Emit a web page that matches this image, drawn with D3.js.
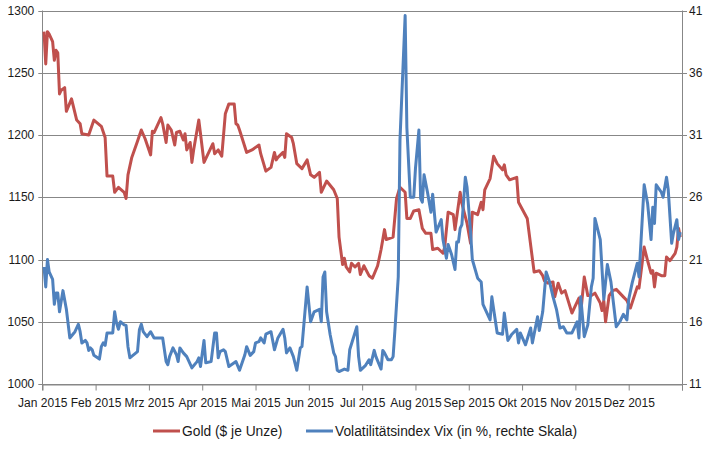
<!DOCTYPE html>
<html>
<head>
<meta charset="utf-8">
<script src="https://cdn.jsdelivr.net/npm/d3@7"></script>
<style>
  body { margin: 0; background: #fff; }
  svg text { font-family: "Liberation Sans", Arial, sans-serif; fill: #1a1a1a; }
</style>
</head>
<body>
<div id="app"></div>
<script>
// month labels of the x axis (German)
const monthLabels = ['Jan', 'Feb', 'Mrz', 'Apr', 'Mai', 'Jun', 'Jul', 'Aug', 'Sep', 'Okt', 'Nov', 'Dez'];

// gold price, $ per ounce (left axis)
const goldDates = ['1-2','1-3','1-4','1-5','1-7','1-8','1-9','1-10','1-11','1-12','1-14','1-15','1-18','1-21','1-23','1-24','1-28','1-31',
  '2-4','2-6','2-7','2-10','2-11','2-13','2-16','2-17','2-18','2-20','2-23','2-25','2-27',
  '3-2','3-3','3-4','3-8','3-9','3-11','3-12','3-14','3-16','3-17','3-19','3-21','3-22','3-23','3-25','3-26','3-27','3-30','3-31',
  '4-2','4-7','4-8','4-10','4-12','4-14','4-16','4-19','4-20','4-21','4-22','4-26','4-29',
  '5-3','5-4','5-7','5-10','5-12','5-13','5-14','5-17','5-18','5-19','5-22','5-23','5-25','5-28','5-31',
  '6-2','6-4','6-7','6-8','6-11','6-15','6-17','6-18','6-20','6-21','6-22','6-24','6-25','6-27','6-29','6-30',
  '7-2','7-5','7-7','7-10','7-12','7-14','7-15','7-19','7-21','7-23','7-26','7-27','7-29','7-31',
  '8-3','8-5','8-7','8-10','8-11','8-14','8-17','8-18','8-20','8-23','8-24','8-27','8-28','8-31',
  '9-2','9-3','9-6','9-8','9-9','9-10','9-13','9-15','9-17','9-20','9-21','9-22','9-24','9-28','9-29',
  '10-4','10-8','10-11','10-13','10-14','10-16','10-19','10-20','10-22','10-24','10-26','10-30',
  '11-1','11-3','11-4','11-6','11-8','11-10','11-12','11-15','11-16','11-17','11-18','11-20','11-22','11-24','11-28','11-30',
  '12-2','12-6','12-7','12-10','12-12','12-14','12-15','12-16','12-17','12-20','12-22','12-23','12-25','12-28','12-29','12-30','12-31'];
const goldValues = [1283,1257,1283,1281,1275,1260,1268,1266,1233,1236,1238,1219,1229,1212,1209,1201,1200,1212,
  1207,1198,1167,1167,1154,1158,1154,1149,1168,1182,1195,1204,1197,
  1184,1203,1202,1214,1209,1194,1208,1204,1192,1202,1203,1196,1201,1188,1194,1178,1188,1212,1201,
  1178,1193,1185,1188,1183,1217,1225,1225,1209,1208,1204,1186,1188,
  1192,1185,1171,1174,1186,1180,1182,1186,1182,1201,1198,1193,1177,1173,1180,
  1168,1166,1170,1154,1163,1156,1149,1118,1096,1101,1094,1090,1097,1094,1097,1088,
  1095,1087,1085,1095,1108,1124,1116,1118,1149,1158,1154,1133,1133,1139,
  1140,1125,1121,1121,1108,1109,1105,1110,1138,1136,1124,1154,1145,1129,
  1113,1138,1136,1146,1140,1156,1165,1183,1177,1172,1176,1168,1164,1166,1146,
  1133,1090,1091,1087,1083,1081,1082,1070,1081,1073,1075,1057,
  1063,1069,1057,1086,1071,1071,1073,1065,1059,1067,1050,1071,1075,1076,1070,1067,
  1061,1078,1077,1110,1099,1089,1091,1078,1089,1087,1087,1102,1099,1105,1110,1125,1118];

// volatility index VIX, % (right axis)
const vixDates = ['1-2','1-3','1-4','1-5','1-7','1-8','1-9','1-10','1-11','1-13','1-15','1-17','1-20','1-22','1-23','1-24','1-26','1-27','1-28','1-29','1-30','1-31',
  '2-3','2-4','2-5','2-6','2-7','2-10','2-11','2-12','2-13','2-14','2-16','2-17','2-18','2-19','2-23','2-24','2-25','2-26','2-28',
  '3-2','3-4','3-9','3-11','3-12','3-13','3-15','3-17','3-18','3-19','3-21','3-23','3-26','3-29','3-30','3-31',
  '4-2','4-3','4-6','4-8','4-9','4-10','4-11','4-13','4-14','4-16','4-20','4-22','4-25','4-26','4-28','4-30',
  '5-1','5-3','5-4','5-6','5-7','5-10','5-12','5-14','5-17','5-18','5-19','5-21','5-23','5-25','5-27','5-28','5-31',
  '6-2','6-4','6-7','6-8','6-9','6-10','6-11','6-13','6-15','6-16','6-17','6-18','6-21','6-23','6-24','6-28','6-29','6-30',
  '7-3','7-5','7-6','7-8','7-9','7-12','7-13','7-14','7-16','7-18','7-19','7-20','7-22','7-23','7-26','7-27','7-29','7-31',
  '8-1','8-3','8-4','8-5','8-6','8-8','8-10','8-11','8-13','8-16','8-17','8-19','8-20','8-22','8-24','8-25','8-26','8-27','8-28','8-30','8-31',
  '9-2','9-3','9-6','9-8','9-9','9-13','9-14','9-15','9-17','9-20','9-21','9-23','9-25','9-28','9-29','9-30',
  '10-3','10-6','10-7','10-10','10-11','10-13','10-15','10-17','10-19','10-21','10-23','10-25','10-27','10-30',
  '11-2','11-3','11-4','11-6','11-8','11-10','11-11','11-12','11-15','11-17','11-19','11-21','11-24','11-26','11-28','11-30',
  '12-1','12-3','12-6','12-7','12-10','12-12','12-14','12-15','12-16','12-17','12-20','12-21','12-23','12-24','12-26','12-27','12-29','12-30','12-31'];
const vixValues = [20.4,18.8,21.0,20.0,19.4,17.4,18.3,18.3,16.8,18.5,17.0,14.7,15.2,15.8,15.2,14.3,14.5,14.3,13.7,13.9,13.75,13.3,
  13.0,14.0,14.3,14.1,15.1,15.1,16.8,15.9,15.4,16.0,15.75,15.7,14.0,13.1,13.6,15.35,15.8,15.2,14.8,
  15.2,14.7,14.7,12.8,12.55,13.2,13.9,13.35,12.8,13.9,13.5,13.2,12.3,12.8,13.1,12.4,
  14.5,12.7,12.8,15.1,15.1,13.1,13.6,13.75,13.6,12.4,12.8,12.1,13.35,14.0,13.3,13.6,
  14.3,14.4,14.7,14.3,15.0,15.2,13.75,14.7,15.4,14.7,13.5,13.9,13.2,12.1,13.9,14.0,18.8,
  16.0,16.8,17.0,16.0,19.6,20.0,16.8,14.95,13.5,13.2,12.1,12.0,12.2,12.1,13.75,15.6,13.2,12.1,
  12.5,12.95,12.55,13.7,13.2,12.2,13.7,13.5,12.95,12.95,13.2,15.2,19.6,30.6,40.6,31.6,26.0,26.0,
  28.3,31.4,25.9,25.6,27.8,26.4,24.8,26.25,23.2,24.2,22.6,21.1,22.2,21.4,20.2,22.4,22.4,23.5,23.8,27.6,26.8,
  23.2,21.0,19.5,19.2,17.4,16.15,18.0,17.0,15.1,15.0,16.7,14.5,14.95,15.4,14.3,15.1,
  14.15,15.5,14.3,16.4,15.3,16.8,20.0,19.2,18.0,17.0,15.5,15.6,15.1,15.1,
  16.0,14.7,18.0,14.8,15.75,18.8,19.5,24.3,22.6,17.8,20.6,19.2,15.6,16.0,16.6,16.15,
  17.8,19.1,20.7,19.6,27.0,25.5,22.6,25.2,23.9,27.0,26.4,26.0,27.6,26.6,22.3,23.1,24.2,22.6,23.2];

const goldTicks = [1000, 1050, 1100, 1150, 1200, 1250, 1300];
const vixTicks = [11, 16, 21, 26, 31, 36, 41];

const width = 712;
const height = 452;
const plotLeft = 42.3, plotRight = 682, plotTop = 10.5, plotBottom = 384;

const parse = (s) => {
  const [m, d] = s.split('-').map(Number);
  return new Date(2015, m - 1, d);
};

const svg = d3
  .select('#app')
  .append('svg')
  .attr('width', width)
  .attr('height', height);

// month boundaries as in the reference: every month gets about the same width
const monthStarts = d3.range(13).map((i) => new Date(2015, i, 1));
const x = d3
  .scaleTime()
  .domain(monthStarts)
  .range(monthStarts.map((d, i) => plotLeft + (i * (plotRight - plotLeft)) / 12));

const yGold = d3.scaleLinear().domain([1000, 1300]).range([plotBottom, plotTop]);
const yVix = d3.scaleLinear().domain([11, 41]).range([plotBottom, plotTop]);

const gridColor = '#878787';

// gridlines + tick marks outside both vertical axes
svg
  .append('g')
  .selectAll('line')
  .data(goldTicks)
  .enter()
  .append('line')
  .attr('x1', plotLeft - 4)
  .attr('x2', plotRight + 5)
  .attr('y1', (d) => Math.round(yGold(d)) + 0.5)
  .attr('y2', (d) => Math.round(yGold(d)) + 0.5)
  .attr('stroke', gridColor)
  .attr('stroke-width', 1);

// axis lines
svg.append('line')
  .attr('x1', Math.round(plotLeft) + 0.5).attr('x2', Math.round(plotLeft) + 0.5)
  .attr('y1', plotTop).attr('y2', plotBottom + 6)
  .attr('stroke', gridColor);
svg.append('line')
  .attr('x1', Math.round(plotRight) + 0.5).attr('x2', Math.round(plotRight) + 0.5)
  .attr('y1', plotTop).attr('y2', plotBottom)
  .attr('stroke', gridColor);

// x axis
const xAxis = d3
  .axisBottom(x)
  .tickValues(monthStarts)
  .tickSize(6)
  .tickFormat((d, i) => (i < 12 ? monthLabels[i] + ' 2015' : ''));

const gx = svg
  .append('g')
  .attr('transform', `translate(0,${Math.round(plotBottom) + 0.5})`)
  .call(xAxis);
gx.select('.domain').attr('stroke', gridColor);
gx.selectAll('.tick line').attr('stroke', gridColor);
gx.selectAll('.tick text')
  .attr('y', 14)
  .attr('font-size', 12)
  .attr('font-family', null);

// left axis labels
svg
  .append('g')
  .selectAll('text')
  .data(goldTicks)
  .enter()
  .append('text')
  .attr('x', plotLeft - 8)
  .attr('y', (d) => yGold(d))
  .attr('dy', '0.35em')
  .attr('text-anchor', 'end')
  .attr('font-size', 12)
  .text((d) => d);

// right axis labels
svg
  .append('g')
  .selectAll('text')
  .data(vixTicks)
  .enter()
  .append('text')
  .attr('x', plotRight + 7)
  .attr('y', (d) => yVix(d))
  .attr('dy', '0.35em')
  .attr('text-anchor', 'start')
  .attr('font-size', 12)
  .text((d) => d);

const goldColor = '#C0504D';
const vixColor = '#4F81BD';

const gold = goldDates.map((d, i) => ({ date: parse(d), value: goldValues[i] }));
const vix = vixDates.map((d, i) => ({ date: parse(d), value: vixValues[i] }));

svg
  .append('path')
  .datum(gold)
  .attr('fill', 'none')
  .attr('stroke', goldColor)
  .attr('stroke-width', 3)
  .attr('stroke-linejoin', 'round')
  .attr('d', d3.line().x((d) => x(d.date)).y((d) => yGold(d.value)));

svg
  .append('path')
  .datum(vix)
  .attr('fill', 'none')
  .attr('stroke', vixColor)
  .attr('stroke-width', 3)
  .attr('stroke-linejoin', 'round')
  .attr('d', d3.line().x((d) => x(d.date)).y((d) => yVix(d.value)));

// legend
const legend = [
  { label: 'Gold ($ je Unze)', color: goldColor, x: 153 },
  { label: 'Volatilitätsindex Vix (in %, rechte Skala)', color: vixColor, x: 306 },
];
const lg = svg
  .append('g')
  .selectAll('g')
  .data(legend)
  .enter()
  .append('g')
  .attr('transform', (d) => `translate(${d.x},431)`);
lg.append('line')
  .attr('x1', 0)
  .attr('x2', 27)
  .attr('stroke', (d) => d.color)
  .attr('stroke-width', 3);
lg.append('text')
  .attr('x', 29)
  .attr('dy', '0.35em')
  .attr('font-size', 13.8)
  .text((d) => d.label);
</script>
</body>
</html>
